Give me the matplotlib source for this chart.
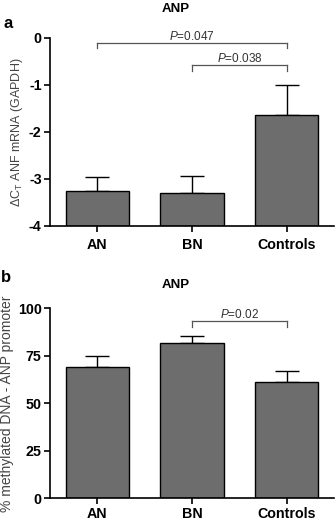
import matplotlib
matplotlib.use("Agg")
import matplotlib.pyplot as plt
import numpy as np

plt.rcParams['font.family'] = ['Liberation Sans', 'DejaVu Sans']
plt.rcParams['mathtext.fontset'] = 'custom'
plt.rcParams['mathtext.rm'] = 'Liberation Sans'
plt.rcParams['mathtext.it'] = 'Liberation Sans:italic'

categories = ['AN', 'BN', 'Controls']
# panel a: delta CT ANF mRNA
a_values = [-3.26, -3.29, -1.63]
a_err = [0.30, 0.35, 0.63]
# panel b: % methylated DNA
b_values = [68.9, 81.6, 61.4]
b_err = [6.0, 3.8, 5.4]

a_brackets = [(0, 2, -0.10, 'P', '=0.047'), (1, 2, -0.58, 'P', '=0.038')]
b_brackets = [(1, 2, 93.3, 'P', '=0.02')]

W, H = 335, 523
fig = plt.figure(figsize=(W / 100, H / 100), dpi=100)

bar_color = '#6d6d6d'
line_gray = '#555555'

def px_axes(left, top, right, bottom):
    return fig.add_axes([left / W, 1 - bottom / H, (right - left) / W, (bottom - top) / H])

def style(ax, ylim, yticks, ylabel, base, lsize, xpad):
    x = np.arange(len(categories))
    vals = a_values if base < 0 else b_values
    ax.bar(x, np.array(vals) - base, bottom=base, width=0.67,
           color=bar_color, edgecolor='black', linewidth=1.0, zorder=2)
    ax.set_xlim(-0.5, 2.5)
    ax.set_ylim(*ylim)
    ax.set_yticks(yticks)
    ax.set_xticks(x)
    ax.set_xticklabels(categories, fontsize=10.3, fontweight='bold')
    for lab in ax.get_yticklabels():
        lab.set_fontweight('bold')
        lab.set_fontsize(10.3)
    ax.spines['top'].set_visible(False)
    ax.spines['right'].set_visible(False)
    ax.spines['left'].set_linewidth(1.2)
    ax.spines['bottom'].set_linewidth(1.2)
    ax.tick_params(axis='both', direction='out', length=4, width=1.2, pad=2)
    ax.tick_params(axis='x', pad=xpad)
    ax.set_ylabel(ylabel, fontsize=lsize, color='#444444', labelpad=3)

def brackets(ax, items, tick):
    for i, j, y, p, rest in items:
        ax.plot([i, j], [y, y], color=line_gray, lw=0.9, zorder=3)
        ax.plot([i, i], [y, y - tick], color=line_gray, lw=0.9, zorder=3)
        ax.plot([j, j], [y, y - tick], color=line_gray, lw=0.9, zorder=3)
        ax.text((i + j) / 2, y, r'$\it{' + p + r'}$' + rest, ha='center', va='bottom',
                fontsize=8.5, color='#333333')

x = np.arange(len(categories))

# Panel a
ax1 = px_axes(50, 38, 334, 226)
style(ax1, (-4, 0), [0, -1, -2, -3, -4], r'$\Delta$C$_{\mathrm{T}}$ ANF mRNA (GAPDH)', -4, 9, 5)
ax1.errorbar(x, a_values, yerr=[np.zeros(3), a_err], fmt='none', ecolor='black',
             elinewidth=1.0, capsize=8.3, capthick=1.0, zorder=1)
ax1.set_yticklabels(['0', '-1', '-2', '-3', '-4'], fontweight='bold', fontsize=10.3)
brackets(ax1, a_brackets, 0.12)
fig.text(176 / W, 1 - 9 / H, 'ANP', ha='center', va='center', fontsize=9.5, fontweight='bold')
fig.text(8 / W, 1 - 23 / H, 'a', ha='center', va='center', fontsize=12, fontweight='bold')

# Panel b
ax2 = px_axes(50, 308.3, 334, 498.3)
style(ax2, (0, 100), [0, 25, 50, 75, 100], '% methylated DNA - ANP promoter', 0, 10, 2.5)
ax2.errorbar(x, b_values, yerr=[np.zeros(3), b_err], fmt='none', ecolor='black',
             elinewidth=1.0, capsize=8.3, capthick=1.0, zorder=1)
brackets(ax2, b_brackets, 3)
fig.text(176 / W, 1 - 285 / H, 'ANP', ha='center', va='center', fontsize=9.5, fontweight='bold')
fig.text(6 / W, 1 - 278 / H, 'b', ha='center', va='center', fontsize=12, fontweight='bold')

fig.savefig('out.png', dpi=100)
